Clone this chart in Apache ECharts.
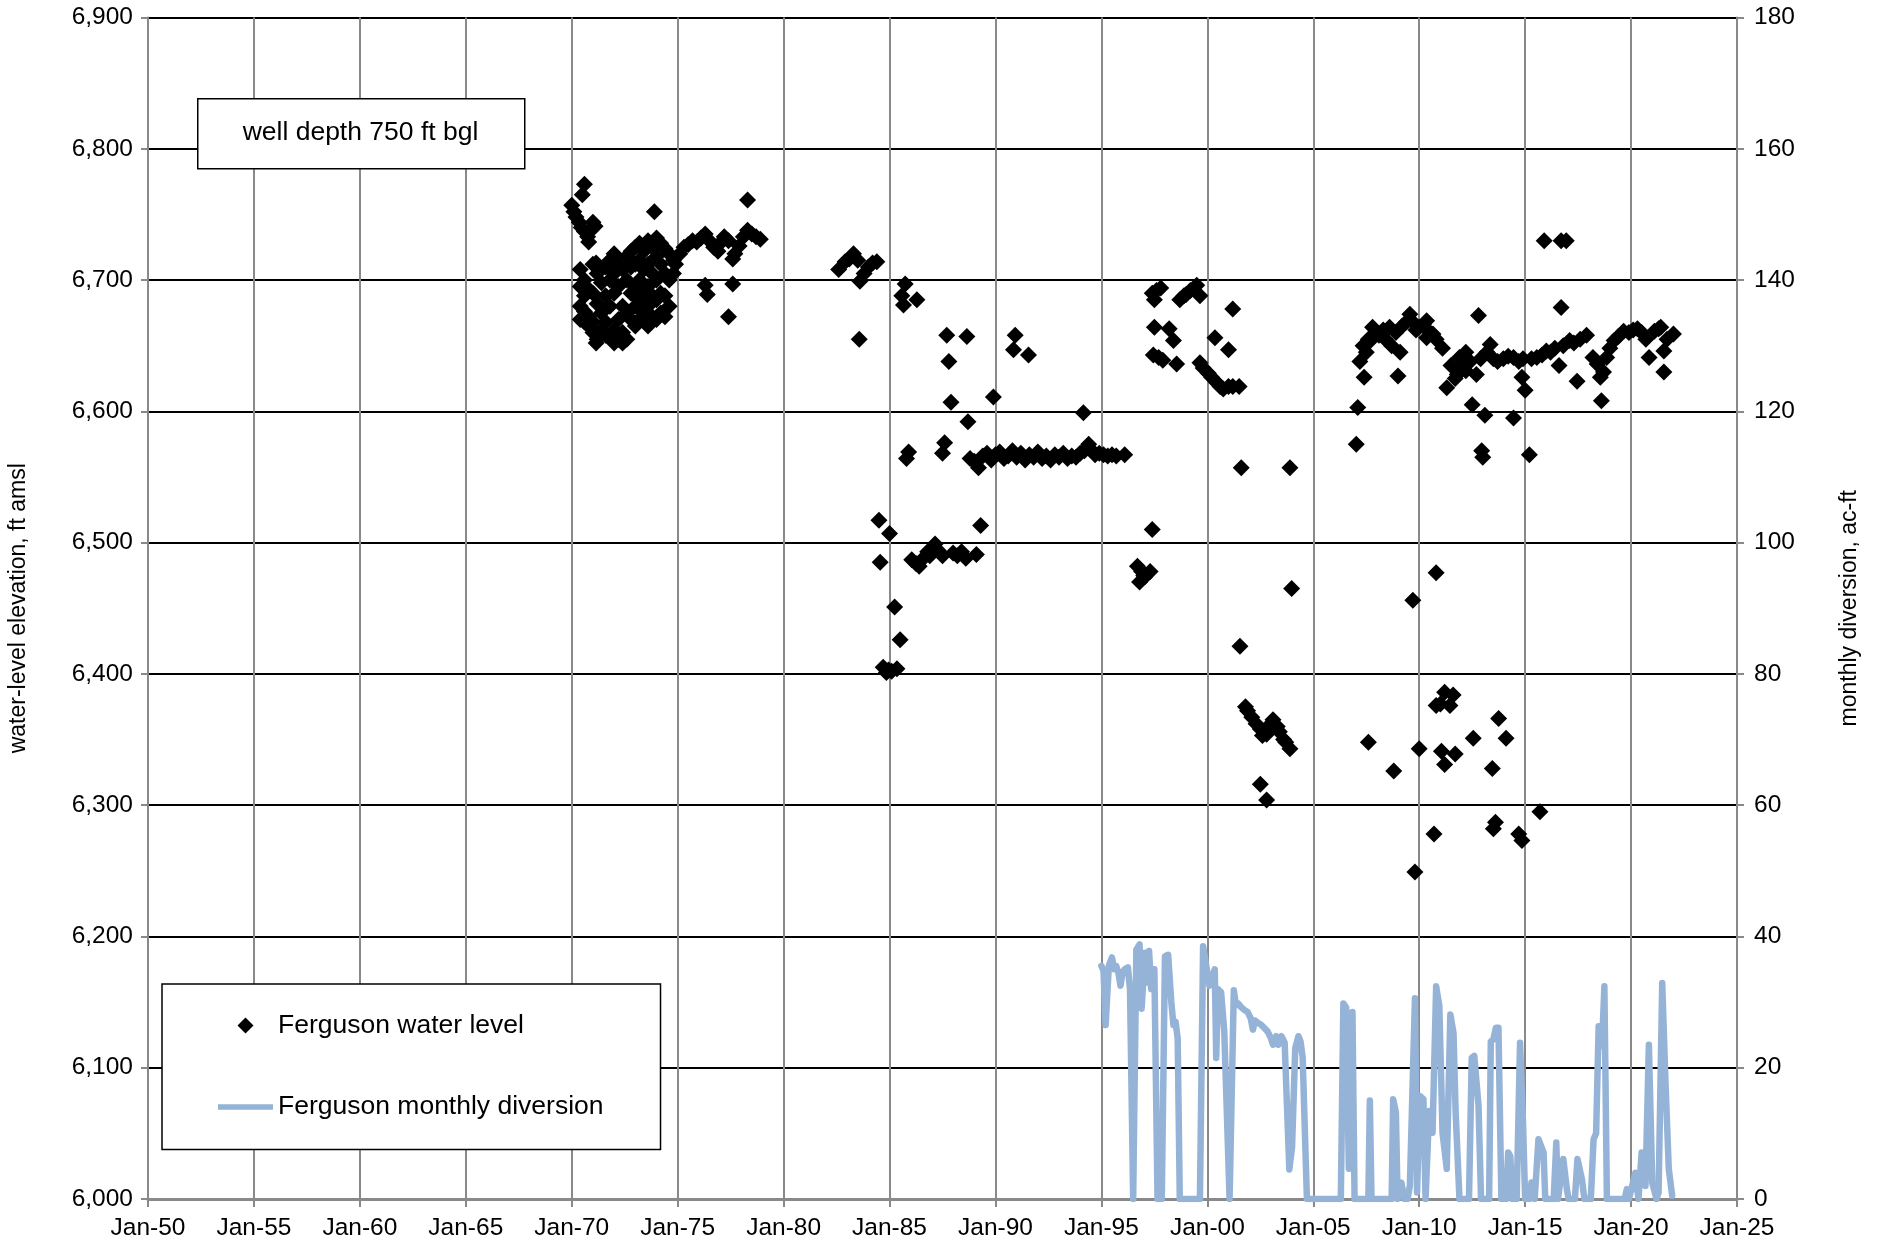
<!DOCTYPE html>
<html>
<head>
<meta charset="utf-8">
<script src="https://cdn.jsdelivr.net/npm/echarts@6/dist/echarts.min.js"></script>
<style>
html,body{margin:0;padding:0;background:#fff;}
#chart{width:1881px;height:1244px;}
</style>
</head>
<body>
<div id="chart"></div>
<script>
// ---- tick labels ----
const xTickLabels = ['Jan-50','Jan-55','Jan-60','Jan-65','Jan-70','Jan-75','Jan-80','Jan-85','Jan-90','Jan-95','Jan-00','Jan-05','Jan-10','Jan-15','Jan-20','Jan-25'];

// ---- water level [decimal year, ft amsl] ----
const levels1970s = [
 [1970.0,6757],[1970.1,6752],[1970.2,6748],[1970.35,6744],[1970.5,6765],[1970.6,6773],[1970.45,6740],[1970.6,6737],
 [1970.75,6733],[1970.9,6738],[1971.0,6744],[1971.1,6741],[1970.8,6729],
 [1970.4,6708],[1970.4,6695],[1970.4,6680],[1970.4,6670],
 [1970.6,6700],[1970.6,6688],[1970.6,6676],[1970.6,6668],
 [1970.8,6693],[1970.8,6672],[1970.8,6665],
 [1971.0,6712],[1971.0,6690],[1971.0,6668],[1971.0,6660],
 [1971.2,6705],[1971.2,6682],[1971.2,6655],[1971.15,6652],[1971.15,6713],
 [1971.4,6698],[1971.4,6675],[1971.4,6662],
 [1971.6,6710],[1971.6,6688],[1971.6,6668],[1971.6,6658],
 [1971.8,6715],[1971.8,6700],[1971.8,6680],[1971.8,6656],
 [1972.0,6720],[1972.0,6705],[1972.0,6690],[1972.0,6662],[1972.0,6652],
 [1972.2,6712],[1972.2,6695],[1972.2,6670],[1972.2,6655],
 [1972.4,6708],[1972.4,6680],[1972.4,6660],[1972.4,6652],
 [1972.6,6718],[1972.6,6700],[1972.6,6675],[1972.6,6655],
 [1972.8,6722],[1972.8,6710],[1972.8,6690],[1972.8,6670],
 [1973.0,6725],[1973.0,6712],[1973.0,6695],[1973.0,6680],[1973.0,6665],
 [1973.2,6728],[1973.2,6715],[1973.2,6700],[1973.2,6685],[1973.2,6670],
 [1973.4,6722],[1973.4,6708],[1973.4,6690],[1973.4,6675],
 [1973.6,6730],[1973.6,6712],[1973.6,6695],[1973.6,6680],[1973.6,6665],
 [1973.8,6725],[1973.8,6705],[1973.8,6688],[1973.8,6672],[1973.9,6752],
 [1974.0,6732],[1974.0,6718],[1974.0,6700],[1974.0,6685],[1974.0,6670],
 [1974.2,6728],[1974.2,6712],[1974.2,6690],[1974.2,6675],
 [1974.4,6724],[1974.4,6705],[1974.4,6688],[1974.4,6672],
 [1974.6,6720],[1974.6,6700],[1974.6,6680],[1974.8,6715],[1974.8,6705],
 [1974.9,6712],[1975.1,6720],[1975.3,6725],[1975.5,6727],[1975.7,6730],[1975.9,6729],[1976.1,6732],[1976.3,6735],
 [1976.5,6730],[1976.7,6725],[1976.9,6722],[1977.0,6728],[1977.2,6733],[1977.4,6730],[1977.6,6716],[1977.7,6720],
 [1977.9,6726],[1978.1,6733],[1978.3,6738],[1978.5,6735],[1978.7,6733],[1978.9,6731],
 [1976.3,6696],[1976.4,6689],[1977.6,6697],[1977.4,6672],[1978.3,6761]
];
const levels1980s = [
 [1982.6,6708],[1982.9,6714],[1983.1,6716],[1983.3,6720],[1983.5,6715],[1983.6,6699],[1983.8,6705],[1984.0,6710],
 [1984.2,6713],[1984.4,6714],[1983.57,6655],
 [1984.5,6517],[1984.56,6485],[1985.0,6507],[1985.24,6451],[1985.5,6426],[1984.7,6405],[1984.85,6401],[1984.95,6403],
 [1985.1,6402],[1985.35,6404],[1985.74,6697],[1985.58,6688],[1986.29,6685],[1985.66,6681],[1985.9,6569],[1985.8,6564],
 [1986.05,6487],[1986.25,6484],[1986.4,6482],[1986.6,6488],[1986.8,6493],[1986.9,6490],[1987.15,6499],[1987.3,6494],
 [1987.5,6490],[1987.6,6576],[1987.5,6568],[1987.7,6658],[1987.8,6638],[1987.9,6607],[1988.0,6492],[1988.2,6490],
 [1988.4,6493],[1988.6,6488],[1988.65,6657],[1988.7,6592],[1989.1,6491],[1989.3,6513]
];
const levels1990s = [
 [1988.8,6564],[1989.0,6562],[1989.2,6557],[1989.4,6566],[1989.6,6568],[1989.8,6563],[1990.0,6567],[1990.2,6569],
 [1990.4,6564],[1990.6,6566],[1990.8,6570],[1991.0,6565],[1991.2,6568],[1991.4,6563],[1991.6,6567],[1991.8,6565],
 [1992.0,6569],[1992.2,6564],[1992.4,6566],[1992.6,6563],[1992.8,6567],[1993.0,6565],[1993.2,6568],[1993.4,6564],
 [1993.6,6566],[1993.8,6565],[1994.0,6568],[1994.2,6570],[1994.4,6575],[1994.5,6571],[1994.7,6567],[1994.9,6568],
 [1995.1,6567],[1995.3,6566],[1995.5,6567],[1995.7,6566],[1996.1,6567],[1989.9,6611],[1990.93,6658],[1990.85,6647],
 [1991.56,6643],[1994.15,6599],
 [1996.7,6482],[1996.8,6470],[1996.9,6478],[1997.0,6475],[1997.05,6474],[1997.3,6478],[1997.4,6510],[1997.4,6690],
 [1997.5,6685],[1997.6,6692],[1997.8,6694],[1997.45,6643],[1997.5,6664],[1997.7,6641],[1997.9,6639],[1998.2,6663],
 [1998.4,6654],[1998.55,6636],[1998.7,6685],[1998.9,6688],[1999.0,6689],[1999.2,6692],[1999.5,6696],[1999.65,6688]
];
const levels2000s = [
 [1999.65,6637],[1999.8,6633],[2000.05,6629],[2000.2,6626],[2000.36,6656],[2000.44,6622],[2000.6,6619],[2000.75,6617],
 [2001.0,6647],[2001.0,6619],[2001.2,6678],[2001.2,6619],[2001.5,6619],[2001.6,6557],[2003.9,6557],[2003.98,6465],
 [2001.54,6421],[2001.8,6375],[2001.9,6372],[2002.1,6367],[2002.3,6362],[2002.5,6358],[2002.6,6353],[2002.8,6354],
 [2003.0,6362],[2003.1,6365],[2003.3,6360],[2003.4,6356],[2003.6,6350],[2003.7,6348],[2003.9,6343],[2002.5,6316],
 [2002.8,6304]
];
const levels2010s = [
 [2007.03,6575],[2007.1,6603],[2007.2,6638],[2007.35,6650],[2007.4,6626],[2007.5,6645],[2007.6,6655],[2007.7,6654],
 [2007.8,6664],[2007.9,6658],[2008.1,6658],[2008.3,6662],[2008.4,6655],[2008.6,6664],[2008.7,6650],[2008.9,6660],
 [2009.0,6627],[2009.1,6645],[2009.2,6665],[2009.4,6668],[2009.56,6674],[2009.7,6668],[2009.85,6662],[2010.0,6664],
 [2010.2,6666],[2010.35,6669],[2010.35,6656],[2010.5,6660],[2010.65,6659],[2010.8,6655],[2011.1,6648],[2011.3,6618],
 [2011.5,6635],[2011.7,6625],[2011.8,6628],[2011.9,6641],[2012.0,6636],[2012.2,6645],[2012.2,6631],[2012.4,6638],
 [2012.5,6605],[2012.7,6628],[2012.8,6673],[2012.9,6640],[2012.95,6570],[2013.0,6565],[2013.1,6597],[2013.2,6645],
 [2013.35,6651],[2013.5,6640],[2013.7,6638],[2013.97,6640],[2014.2,6642],[2014.45,6641],[2014.45,6595],[2014.7,6638],
 [2014.85,6626],[2014.9,6640],[2015.0,6616],[2015.2,6567],[2015.3,6640],[2015.55,6641],[2015.8,6643],[2016.0,6646],
 [2016.2,6645],[2016.4,6648],[2016.6,6635],[2016.7,6679],[2016.8,6650],[2017.1,6654],[2017.3,6652],[2017.45,6623],
 [2017.6,6655],[2017.9,6658],[2018.2,6641],[2018.4,6636],[2018.55,6626],[2018.6,6608],[2018.7,6630],[2018.85,6641],
 [2019.0,6648],[2019.2,6654],[2019.4,6657],[2019.65,6661],[2019.9,6660],[2020.1,6662],[2020.3,6663],[2020.5,6660],
 [2020.7,6655],[2020.85,6641],[2021.1,6661],[2021.3,6663],[2021.4,6664],[2021.55,6646],[2021.55,6630],[2021.7,6655],
 [2022.0,6659],[2015.9,6730],[2016.7,6730],[2016.94,6730],
 [2007.6,6348],[2008.8,6326],[2009.7,6456],[2009.8,6249],[2010.0,6343],[2010.7,6278],[2010.8,6477],[2010.8,6376],
 [2011.0,6377],[2011.05,6341],[2011.2,6386],[2011.2,6331],[2011.45,6376],[2011.6,6384],[2011.7,6339],[2012.55,6351],
 [2013.45,6328],[2013.5,6282],[2013.6,6287],[2013.75,6366],[2014.1,6351],[2014.7,6278],[2014.85,6273],[2015.7,6295]
];

// ---- monthly diversion [decimal year, ac-ft] ----
const diversion1995to2005 = [
 [1995.0,35.5],[1995.1,34.8],[1995.2,26.5],[1995.35,35.5],[1995.5,36.8],[1995.6,35.0],[1995.7,35.5],[1995.8,34.5],
 [1995.9,32.5],[1996.0,34.5],[1996.1,35.0],[1996.25,35.3],[1996.35,32.0],[1996.5,0],[1996.65,38.0],[1996.8,38.8],
 [1996.9,29.0],[1997.05,37.5],[1997.15,33.0],[1997.25,37.8],[1997.35,32.0],[1997.5,35.0],[1997.65,0],[1997.85,0],
 [1998.0,37.0],[1998.15,37.2],[1998.3,30.0],[1998.4,26.5],[1998.5,27.0],[1998.6,24.5],[1998.7,0],[1999.65,0],
 [1999.8,38.5],[1999.95,35.5],[2000.1,32.5],[2000.25,34.0],[2000.35,35.0],[2000.42,21.5],[2000.5,32.0],[2000.65,31.5],
 [2000.8,25.5],[2001.05,0],[2001.25,31.8],[2001.35,29.5],[2001.45,29.8],[2001.6,29.2],[2001.75,28.8],[2001.9,28.5],
 [2002.05,27.5],[2002.15,25.8],[2002.25,27.2],[2002.4,26.8],[2002.55,26.5],[2002.7,26.0],[2002.85,25.5],[2003.0,24.5],
 [2003.1,23.5],[2003.25,24.8],[2003.35,23.5],[2003.5,24.8],[2003.65,23.8],[2003.87,4.5],[2004.0,8.0],[2004.15,23.0],
 [2004.3,24.8],[2004.4,24.0],[2004.5,21.5],[2004.7,0]
];
const diversion2006to2022 = [
 [2006.3,0],[2006.42,29.8],[2006.55,29.2],[2006.68,4.6],[2006.85,28.5],[2006.95,0],[2007.6,0],[2007.67,15.0],
 [2007.75,0],[2008.7,0],[2008.77,15.2],[2008.9,13.2],[2008.98,0],[2009.16,2.5],[2009.3,0],[2009.45,0],[2009.56,2.0],
 [2009.8,30.6],[2009.9,1.0],[2010.03,15.7],[2010.2,15.2],[2010.3,0],[2010.47,13.4],[2010.63,10.1],[2010.8,32.4],
 [2010.95,29.4],[2011.1,10.1],[2011.3,4.6],[2011.47,28.1],[2011.62,25.3],[2011.72,13.2],[2011.9,0],[2012.35,0],
 [2012.48,21.5],[2012.6,21.8],[2012.8,14.2],[2012.92,0],[2013.3,0],[2013.38,24.0],[2013.5,24.3],[2013.62,26.1],
 [2013.74,26.1],[2013.88,0],[2014.1,0],[2014.2,7.1],[2014.3,6.5],[2014.4,0],[2014.6,0],[2014.76,23.8],[2014.9,11.6],
 [2015.0,0],[2015.2,0],[2015.3,2.5],[2015.45,0],[2015.63,9.1],[2015.87,7.1],[2015.95,0],[2016.35,0],[2016.47,8.6],
 [2016.55,0],[2016.8,6.1],[2016.97,1.5],[2017.05,0],[2017.35,0],[2017.47,6.1],[2017.68,3.0],[2017.8,0],[2018.1,0],
 [2018.23,9.1],[2018.35,10.0],[2018.47,26.3],[2018.63,23.3],[2018.74,32.4],[2018.86,0],[2019.7,0],[2019.8,1.5],
 [2019.9,0],[2020.2,4.0],[2020.35,0],[2020.5,7.1],[2020.68,2.0],[2020.84,23.5],[2021.0,2.5],[2021.2,0],[2021.3,1.0],
 [2021.47,32.9],[2021.62,18.2],[2021.78,4.6],[2021.94,0.5]
];

const waterLevel = [].concat(levels1970s, levels1980s, levels1990s, levels2000s, levels2010s);
const diversion = [].concat(diversion1995to2005, [[2005.5,0]], diversion2006to2022);

const FONT = "'Liberation Sans', Arial, sans-serif";
const GRAY = '#898989';
const BLUE = '#95B3D7';

const chart = echarts.init(document.getElementById('chart'), null, {renderer:'canvas'});
chart.setOption({
  animation: false,
  backgroundColor: '#fff',
  textStyle: {fontFamily: FONT, color: '#000'},
  grid: {left: 148, right: 144, top: 17.5, bottom: 45, outerBoundsMode: 'none', containLabel: false},
  xAxis: {
    type: 'value', min: 1950, max: 2025, interval: 5,
    axisLine: {show: true, lineStyle: {color: GRAY, width: 3}},
    axisTick: {show: true, length: 8, lineStyle: {color: GRAY, width: 2}},
    axisLabel: {fontSize: 24.5, color: '#000', fontFamily: FONT, margin: 17,
      formatter: v => xTickLabels[Math.round((v - 1950) / 5)]},
    splitLine: {show: true, lineStyle: {color: GRAY, width: 2}}
  },
  yAxis: [{
    type: 'value', min: 6000, max: 6900, interval: 100,
    name: 'water-level elevation, ft amsl', nameLocation: 'middle', nameGap: 118, nameRotate: 90,
    nameTextStyle: {fontSize: 23, color: '#000', fontFamily: FONT},
    axisLine: {show: true, lineStyle: {color: GRAY, width: 2}},
    axisTick: {show: true, length: 7, lineStyle: {color: GRAY, width: 2}},
    axisLabel: {fontSize: 24.5, color: '#000', fontFamily: FONT, margin: 15,
      formatter: v => v.toLocaleString('en-US')},
    splitLine: {show: true, lineStyle: {color: '#000', width: 2}}
  }, {
    type: 'value', min: 0, max: 180, interval: 20, position: 'right',
    name: 'monthly diversion, ac-ft', nameLocation: 'middle', nameGap: 101, nameRotate: 90,
    nameTextStyle: {fontSize: 23, color: '#000', fontFamily: FONT},
    axisLine: {show: true, lineStyle: {color: GRAY, width: 2}},
    axisTick: {show: true, length: 7, lineStyle: {color: GRAY, width: 2}},
    axisLabel: {fontSize: 24.5, color: '#000', fontFamily: FONT, margin: 17},
    splitLine: {show: false}
  }],
  legend: {
    orient: 'vertical', left: 162, top: 984,
    padding: [28, 57, 29, 56], itemGap: 54.5, itemWidth: 55, itemHeight: 16,
    symbolKeepAspect: true,
    borderColor: '#000', borderWidth: 1.5, backgroundColor: '#fff',
    textStyle: {fontSize: 26.5, color: '#000', fontFamily: FONT, lineHeight: 26.5},
    data: [
      {name: 'Ferguson water level', icon: 'path://M0,-8 L8,0 L0,8 L-8,0 Z', itemStyle: {color: '#000', opacity: 1}},
      {name: 'Ferguson monthly diversion', icon: 'path://M0,0 L55,0 L55,5.5 L0,5.5 Z', itemStyle: {color: BLUE, opacity: 1}}
    ]
  },
  graphic: [{
    type: 'rect', left: 197, top: 98, z: 100,
    shape: {width: 327, height: 70},
    style: {fill: '#fff', stroke: '#000', lineWidth: 1.5}
  }, {
    type: 'text', x: 360.5, y: 133, z: 101,
    style: {text: 'well depth 750 ft bgl', fontSize: 26.5, fontFamily: FONT, fill: '#000',
      align: 'center', verticalAlign: 'middle', textAlign: 'center', textVerticalAlign: 'middle'}
  }],
  series: [{
    name: 'Ferguson water level', type: 'scatter', symbol: 'diamond', symbolSize: 17,
    itemStyle: {color: '#000', opacity: 1}, data: waterLevel, z: 3
  }, {
    name: 'Ferguson monthly diversion', type: 'line', yAxisIndex: 1, symbol: 'none', showSymbol: false,
    lineStyle: {color: BLUE, width: 6.5, join: 'round', cap: 'round'},
    itemStyle: {color: BLUE}, data: diversion, z: 2
  }]
});
</script>
</body>
</html>
